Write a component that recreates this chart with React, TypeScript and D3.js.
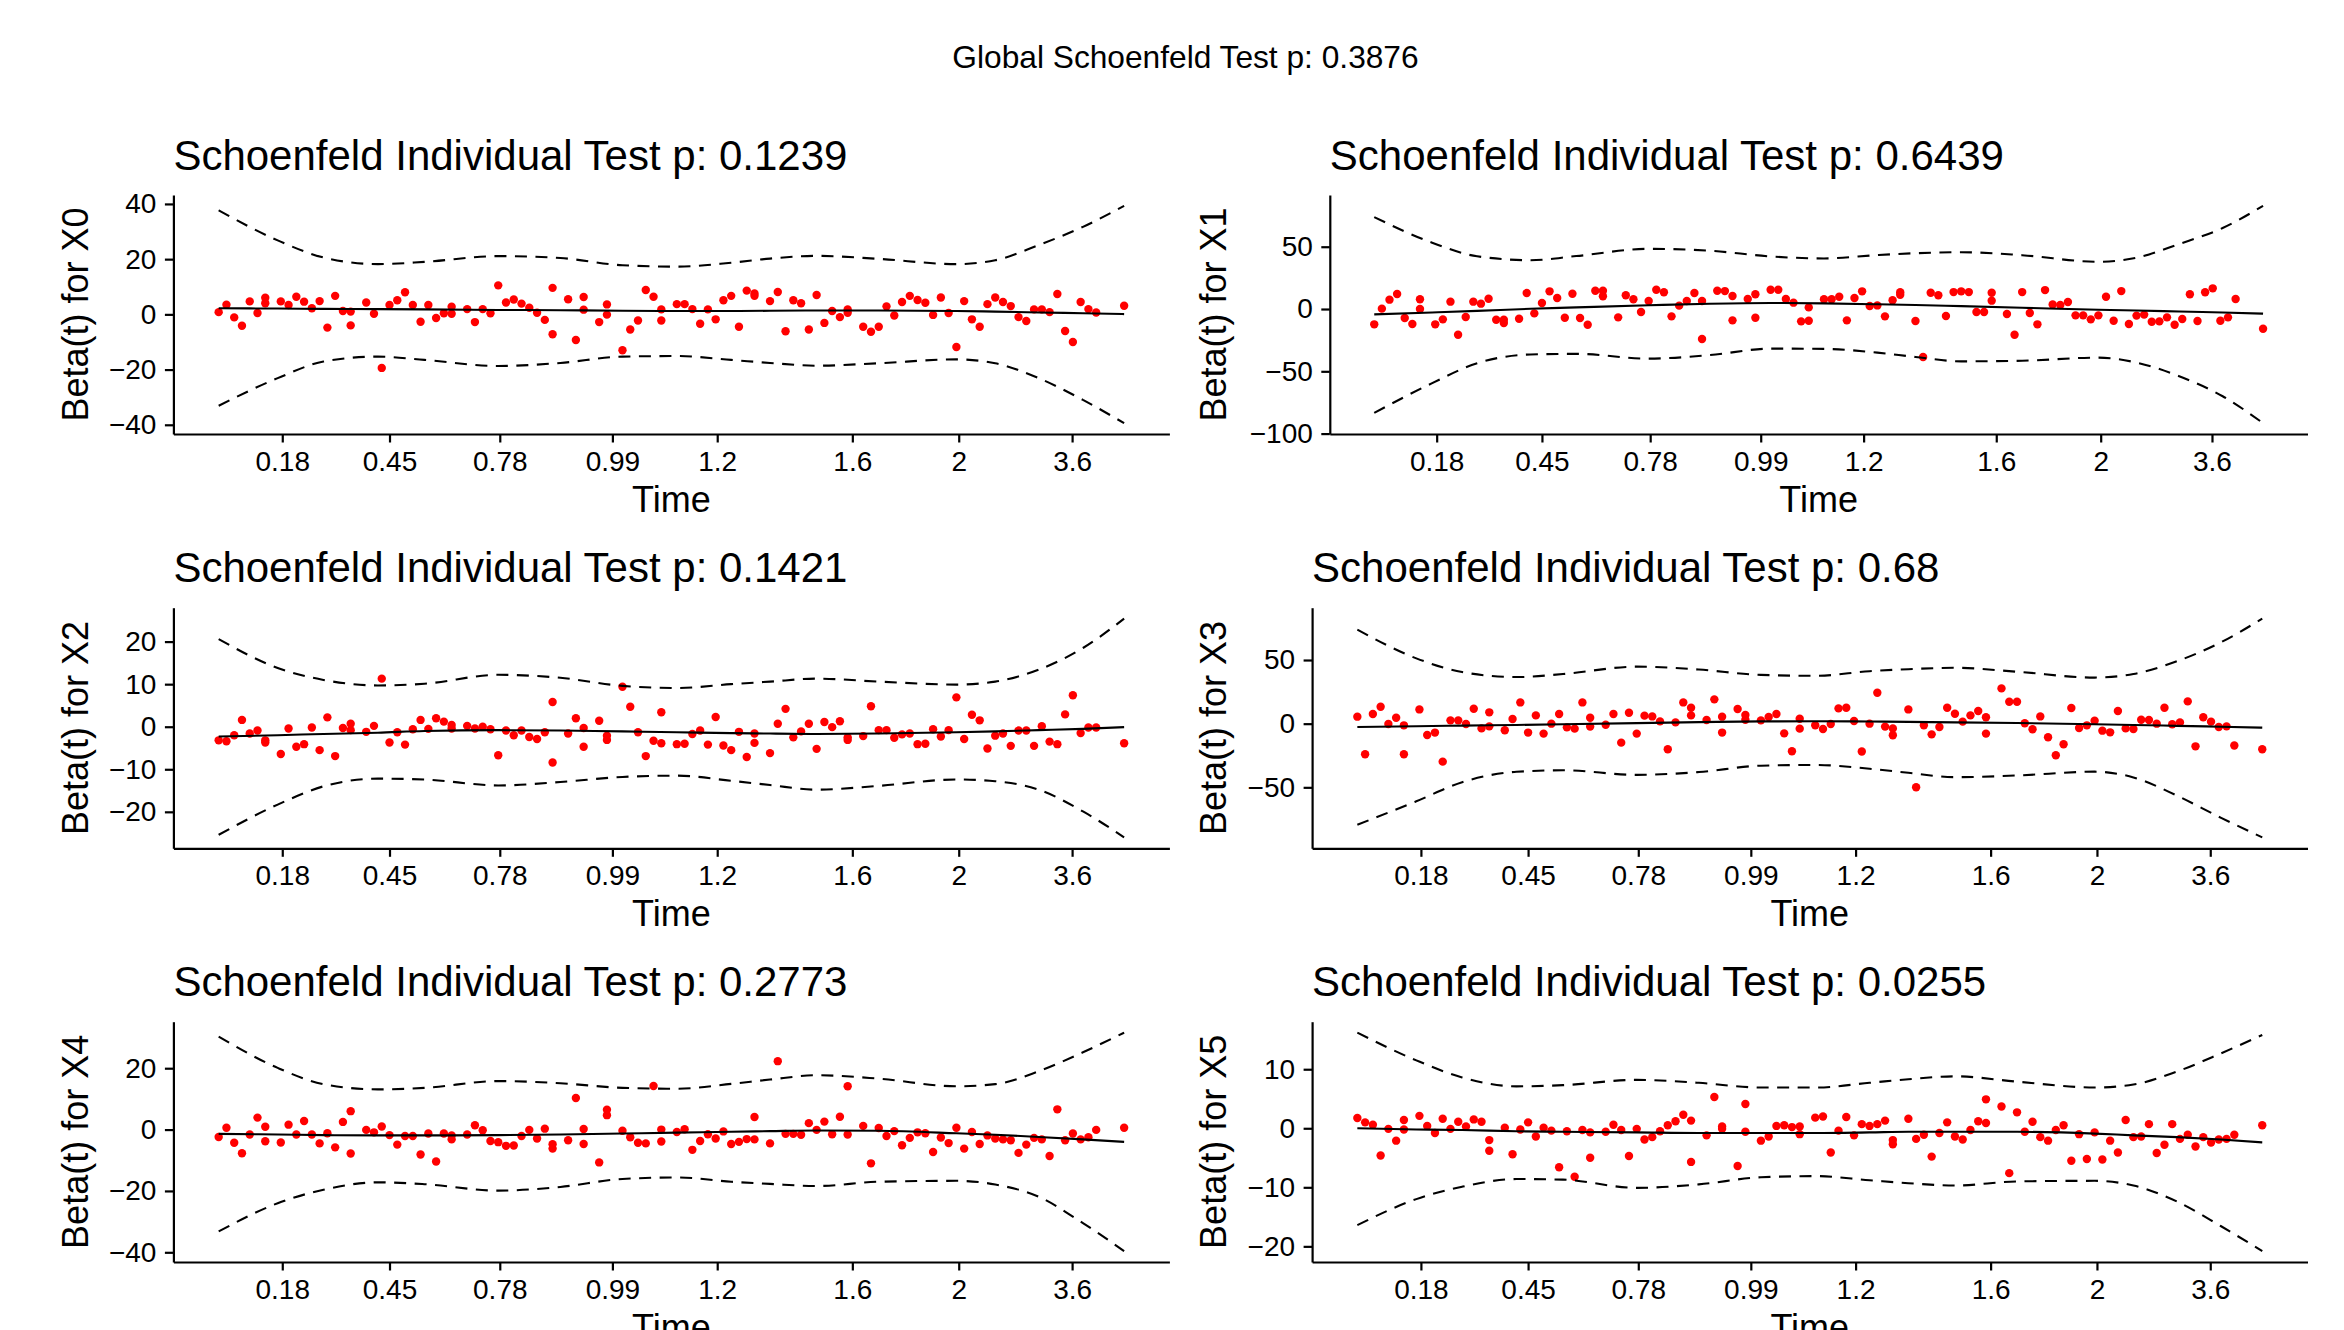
import * as d3 from "d3";
import { useEffect, useRef } from "react";

// x position of every event on the transformed time axis (tied times share a slot)
const timeSlots = [
  0, 1, 2, 3, 4, 5, 6, 6,
  8, 9, 10, 11, 12, 13, 14, 15, 16, 17, 17,
  19, 20, 21, 22, 23, 24, 25, 26, 27, 28, 29, 30, 30,
  32, 33, 34, 35, 36, 37, 38, 39, 40, 41, 42, 43, 43,
  45, 46, 47, 47,
  49, 50, 50,
  52, 53, 54, 55, 56, 57, 57,
  59, 60, 61, 62, 63, 64, 65, 66, 67, 68, 69, 69,
  71, 72, 73, 74, 75, 76, 77, 78, 79, 80, 81, 81,
  83, 84, 85, 86, 87, 88, 89, 90, 91, 92, 93, 94, 95, 96, 97, 98, 99, 100,
  101, 102, 103, 104, 105, 106, 107, 108, 109, 110, 111, 112, 113,
  116.6,
];

const timeTickSlots = [8.19, 22.0, 36.2, 50.7, 64.2, 81.6, 95.3, 109.9];
const timeTickLabels = ["0.18", "0.45", "0.78", "0.99", "1.2", "1.6", "2", "3.6"];

// scaled Schoenfeld residuals, one value per event
const betaX0 = [
  0.8, 3.5, -1.1, -4.1, 4.7, 0.5, 6.0, 4.0,
  4.7, 3.4, 6.4, 4.6, 2.2, 4.8, -4.8, 6.7, 1.2, 1.0, -4.0,
  4.3, 0.2, -19.4, 3.4, 5.1, 8.0, 3.4, -2.7, 3.4, -1.3, 0.4, 2.8, 0.2,
  1.9, -2.8, 1.9, 0.4, 10.5, 4.3, 5.4, 3.9, 2.4, 0.6, -2.0, 9.6, -7.2,
  5.5, -9.3, 6.3, 1.7,
  -2.8, 3.6, -0.1,
  -13.0, -5.5, -2.2, 8.8, 6.4, 1.8, -2.2,
  3.7, 3.7, 1.9, -3.4, 1.8, -1.8, 5.1, 6.7, -4.5, 8.6, 6.7, 7.6,
  4.8, 8.1, -6.1, 5.1, 4.0, -5.5, 7.0, -3.1, 1.2, -1.0, 1.8, 0.6,
  -4.5, -6.3, -4.5, 2.9, -0.4, 4.5, 6.7, 5.2, 4.2, -0.2, 6.1, 0.5, -11.8, 4.8, -1.8, -4.5, 3.7, 6.1,
  4.5, 3.0, -1.0, -2.4, 1.8, 1.8, 0.8, 7.4, -6.0, -10.0, 4.5, 1.9, 0.7,
  3.1,
];
const betaX1 = [
  -12.3, 0.3, 7.5, 12.0, -7.2, -12.0, 7.8, 0,
  -12.3, -8.3, 5.9, -20.6, -6.4, 5.9, 4.3, 8.3, -8.6, -8.6, -11.2,
  -7.8, 12.8, -3.5, 4.8, 14.2, 8.8, -7.0, 12.3, -7.2, -12.6, 14.7, 14.7, 10.2,
  -6.7, 11.0, 7.8, -2.4, 6.4, 15.5, 13.4, -5.9, 2.7, 6.4, 12.8, 6.4, -24.1,
  14.7, 14.4, 10.4, -9.1,
  8.0, 11.8, -7.0,
  15.5, 15.5, 8.0, 5.1, -9.9, -9.4, 1.3,
  7.8, 7.8, 9.9, -9.1, 8.8, 14.2, 2.4, 2.9, -5.9, 7.0, 13.5, 11.5,
  -9.6, -38.5, 13.1, 11.0, -5.6, 13.6, 14.2, 13.6, -2.4, -2.4, 13.1, 6.7,
  -4.0, -20.6, 13.6, -3.2, -12.3, 15.2, 3.7, 3.2, 5.6, -5.1, -5.1, -8.3, -5.1, 9.9, -9.4, 14.4, -12.0, -5.3,
  -4.5, -10.2, -9.9, -6.7, -12.6, -8.0, 11.8, -9.6, 13.4, 16.6, -9.4, -6.7, 8.0,
  -15.8,
];
const betaX2 = [
  -3.2, -3.4, -2.0, 1.6, -1.6, -0.9, -3.7, -3.2,
  -6.4, -0.4, -4.7, -4.1, -0.2, -5.5, 2.2, -6.9, -0.3, 0.7, -0.8,
  -1.2, 0.2, 11.3, -3.7, -1.3, -4.2, -0.6, 1.6, -0.5, 2.0, 1.2, 0.4, -0.4,
  0.2, -0.4, 0, -0.6, -6.7, -0.9, -2.0, -0.9, -2.4, -2.9, -1.3, 5.8, -8.4,
  -1.6, 2.0, -0.3, -4.7,
  1.4, -2.1, -3.1,
  9.4, 4.7, -1.3, -6.9, -3.3, -3.9, 3.4,
  -4.1, -4.0, -1.7, -0.9, -4.2, 2.3, -4.4, -5.5, -1.2, -7.1, -3.8, -1.6,
  -6.2, 0.7, 4.2, -2.5, -1.1, 0.7, -5.2, 1.1, -0.1, 1.3, -2.5, -3.1,
  -2.2, 4.8, -0.8, -0.8, -2.6, -1.8, -1.6, -4.1, -4.0, -0.6, -2.3, -0.8, 6.9, -2.9, 2.8, 1.5, -5.1, -2.1,
  -1.6, -4.5, -0.9, -0.9, -4.5, 0.1, -3.5, -4.1, 2.9, 7.4, -1.5, -0.2, -0.2,
  -3.9,
];
const betaX3 = [
  5.5, -24.0, 7.6, 13.3, -0.3, 4.7, -1.3, -24.0,
  11.2, -8.9, -7.0, -29.8, 2.6, 2.6, -0.3, 11.7, -3.7, -2.1, 8.9,
  -5.2, 3.7, 16.7, -7.0, 6.5, -7.8, 0, 7.6, -2.9, -3.9, 16.7, 4.7, -2.3,
  -0.8, 7.6, -14.9, 8.6, -7.8, 6.3, 5.7, 1.8, -20.1, 1.0, 16.7, 12.5, 6.5,
  2.9, 19.1, 5.5, -7.0,
  11.5, 6.8, 3.1,
  2.6, 5.3, 7.6, -7.6, -21.7, 3.9, -3.9,
  -1.3, -4.2, -0.3, 12.0, 12.5, 2.1, -21.9, 0, 24.3, -2.3, -3.7, -9.1,
  11.2, -49.9, -1.3, -8.4, -2.6, 12.5, 7.8, 1.6, 6.5, 9.9, 5.0, -7.8,
  27.7, 17.2, 17.2, 0.3, -4.4, 5.7, -10.7, -24.8, -16.2, 12.3, -3.4, -1.3, 2.3, -5.5, -6.8, 9.9, -3.7, -4.2,
  3.1, 2.9, 0, 12.5, -0.5, 1.0, 17.5, -17.8, 5.0, 1.6, -2.6, -2.1, -17.2,
  -20.1,
];
const betaX4 = [
  -2.4, 0.6, -4.3, -7.7, -1.6, 3.9, 0.9, -3.8,
  -4.2, 1.6, -1.6, 2.8, -1.6, -4.5, -1.2, -5.8, 2.5, 6.0, -7.8,
  -0.1, -0.9, 1.0, -1.8, -4.9, -2.1, -2.1, -8.1, -1.3, -10.4, -1.3, -1.9, -3.2,
  -1.6, 1.4, -0.2, -3.7, -4.1, -5.3, -5.2, -2.1, -0.1, -2.9, 0.3, -4.8, -6.2,
  -3.5, 10.3, 0.2, -4.7,
  -10.7, 6.5, 4.7,
  -0.4, -2.5, -4.3, -4.5, 14.2, 0, -3.9,
  -0.8, 0.1, -6.6, -3.7, -1.5, -2.9, -0.6, -4.7, -4.0, -3.1, 4.1, -3.2,
  -4.5, 22.3, -1.4, -1.4, -1.7, 2.1, -0.1, 2.6, -1.5, 4.2, 14.1, -1.6,
  1.2, -11.0, 0.5, -2.1, -0.5, -5.1, -2.7, -0.9, -1.2, -7.3, -2.6, -4.4, 0.6, -6.2, -0.8, -4.7, -1.9, -2.9,
  -3.2, -3.5, -7.6, -4.9, -2.7, -3.2, -8.6, 6.6, -3.5, -1.3, -3.2, -2.5, -0.1,
  0.6,
];
const betaX5 = [
  1.75, 1.0, 0.6, -4.6, -0.1, -2.1, 1.4, -0.2,
  2.1, 0.4, -0.8, 1.6, -0.1, 1.1, 0.3, 1.5, 1.1, -2.0, -3.8,
  0.1, -4.4, -0.2, 1.0, -1.4, 0.1, -0.4, -6.6, -0.5, -8.2, -0.3, -0.7, -5.0,
  -0.6, 0.6, -0.3, -4.7, -0.1, -1.9, -1.5, -0.5, 0.5, 1.2, 2.3, 1.3, -5.7,
  -1.2, 5.3, 0.3, -0.1,
  -6.4, 4.1, -0.6,
  -2.1, -1.4, 0.4, 0.5, 0.2, 0.3, -1.0,
  1.8, 2.0, -4.1, -0.4, 1.9, -1.2, 0.7, 0.4, 0.7, 1.3, -2.0, -2.7,
  1.6, -1.8, -1.1, -4.8, -0.8, 1.0, -1.4, -1.9, -0.3, 1.2, 4.9, 0.9,
  3.7, -7.6, 2.7, -0.6, 1.1, -1.5, -2.1, -0.3, 0.5, -5.5, -1.0, -5.2, -0.7, -5.3, -2.1, -4.1, 1.4, -1.5,
  -1.4, 0.7, -4.2, -2.8, 0.7, -1.8, -1.1, -3.1, -1.5, -2.4, -1.9, -1.8, -1.1,
  0.5,
];

// spline fit and +/- 2 se band, read at these slots
const knotSlots = [0, 7.6, 13.5, 20.5, 26.5, 36, 44, 52, 59, 66, 71, 77, 85, 95, 100, 105.6, 111.3, 116.6];

const fitX0 = [2.2, 2.1, 2.0, 1.9, 1.8, 1.6, 1.5, 1.3, 1.2, 1.2, 1.3, 1.4, 1.4, 1.2, 1.0, 0.7, 0.4, 0.1];
const upperX0 = [37.7, 26.8, 20.6, 18.2, 19.0, 21.1, 20.4, 17.8, 17.3, 18.7, 20.2, 21.2, 20.1, 18.2, 19.6, 25.1, 31.7, 39.3];
const lowerX0 = [-33.1, -23.1, -17.1, -15.3, -16.5, -18.7, -17.6, -15.3, -15.1, -16.5, -17.6, -18.6, -17.7, -16.3, -17.7, -23.1, -31.0, -39.4];

const fitX1 = [-4.3, -2.8, -1.5, 0.2, 1.3, 3.0, 4.2, 4.8, 4.5, 3.8, 3.2, 2.3, 1.0, -0.6, -1.2, -2.0, -2.8, -3.7];
const upperX1 = [73.8, 53.2, 42.3, 39.2, 42.5, 48.3, 46.8, 42.2, 40.6, 43.3, 44.8, 45.6, 43.2, 37.9, 41.2, 52.2, 65.0, 82.8];
const lowerX1 = [-83.4, -59.5, -43.5, -36.5, -36.0, -39.8, -37.0, -31.8, -32.0, -35.0, -38.5, -42.0, -41.5, -39.0, -43.0, -54.0, -70.0, -91.6];

const fitX2 = [-2.3, -2.0, -1.7, -1.4, -1.0, -0.8, -0.9, -1.1, -1.3, -1.5, -1.6, -1.7, -1.6, -1.3, -1.1, -0.8, -0.5, -0.1];
const upperX2 = [20.6, 13.8, 11.0, 9.7, 10.1, 12.2, 11.5, 9.6, 9.1, 10.0, 10.6, 11.3, 10.6, 9.9, 10.6, 13.4, 18.5, 25.4];
const lowerX2 = [-25.4, -18.3, -14.0, -12.2, -12.4, -13.8, -13.0, -11.8, -11.5, -12.7, -13.7, -14.8, -13.9, -12.4, -12.8, -14.8, -19.9, -26.0];

const fitX3 = [-2.6, -2.0, -1.5, -1.0, -0.5, 0.4, 1.2, 1.8, 1.9, 1.7, 1.4, 1.0, 0.5, -0.5, -1.0, -1.7, -2.4, -3.1];
const upperX3 = [73.9, 51.3, 40.6, 36.6, 39.0, 44.8, 42.5, 38.3, 37.6, 41.2, 42.8, 43.9, 40.8, 36.2, 39.0, 49.0, 64.0, 82.5];
const lowerX3 = [-79.4, -61.0, -46.0, -37.8, -36.6, -40.2, -38.0, -33.0, -32.4, -35.4, -38.6, -42.0, -40.7, -37.7, -42.2, -56.5, -74.0, -89.3];

const fitX4 = [-1.4, -1.6, -1.8, -1.9, -1.9, -1.8, -1.6, -1.3, -1.0, -0.7, -0.5, -0.3, -0.4, -1.2, -1.7, -2.4, -3.2, -4.0];
const upperX4 = [30.3, 20.1, 14.8, 13.1, 13.6, 15.8, 15.1, 13.6, 13.3, 14.9, 16.3, 17.7, 16.6, 14.1, 14.8, 19.0, 25.2, 31.6];
const lowerX4 = [-33.2, -24.0, -19.6, -17.2, -17.8, -19.9, -18.7, -16.1, -15.6, -17.0, -17.7, -18.4, -17.0, -16.7, -17.9, -21.9, -30.5, -39.6];

const fitX5 = [0, -0.2, -0.3, -0.5, -0.6, -0.7, -0.8, -0.8, -0.8, -0.7, -0.6, -0.6, -0.6, -0.9, -1.2, -1.5, -1.9, -2.4];
const upperX5 = [16.2, 11.5, 8.6, 7.1, 7.3, 8.2, 7.7, 6.9, 6.9, 7.7, 8.3, 8.8, 7.9, 6.9, 7.4, 9.6, 12.7, 15.8];
const lowerX5 = [-16.4, -12.0, -9.9, -8.6, -8.7, -10.1, -9.5, -8.3, -8.1, -8.8, -9.3, -9.7, -9.0, -8.9, -9.7, -12.4, -16.6, -20.8];

const covariates = ["X0", "X1", "X2", "X3", "X4", "X5"];
const pValues = ["0.1239", "0.6439", "0.1421", "0.68", "0.2773", "0.0255"];
const yTickSets = [
  [-40, -20, 0, 20, 40],
  [-100, -50, 0, 50],
  [-20, -10, 0, 10, 20],
  [-50, 0, 50],
  [-40, -20, 0, 20],
  [-20, -10, 0, 10],
];
const globalP = "0.3876";

const series = [
  { beta: betaX0, fit: fitX0, upper: upperX0, lower: lowerX0 },
  { beta: betaX1, fit: fitX1, upper: upperX1, lower: lowerX1 },
  { beta: betaX2, fit: fitX2, upper: upperX2, lower: lowerX2 },
  { beta: betaX3, fit: fitX3, upper: upperX3, lower: lowerX3 },
  { beta: betaX4, fit: fitX4, upper: upperX4, lower: lowerX4 },
  { beta: betaX5, fit: fitX5, upper: upperX5, lower: lowerX5 },
];

// panel boxes in page pixels (left edge follows the width of the y tick labels)
const boxes = [
  { left: 173.4, right: 1169.4, top: 195, bottom: 434, yTitleX: 87.5 },
  { left: 1329.8, right: 2307.5, top: 195, bottom: 434, yTitleX: 1226 },
  { left: 173.4, right: 1169.4, top: 607.7, bottom: 848.3, yTitleX: 87.5 },
  { left: 1312.1, right: 2307.5, top: 607.7, bottom: 848.3, yTitleX: 1226 },
  { left: 173.4, right: 1169.4, top: 1021.7, bottom: 1262, yTitleX: 87.5 },
  { left: 1312.1, right: 2307.5, top: 1021.7, bottom: 1262, yTitleX: 1226 },
];

const FONT = "'Liberation Sans', Arial, Helvetica, sans-serif";

function ZphPanel({ box, name, p, beta, fit, upper, lower, yTicks }) {
  const gRef = useRef(null);

  useEffect(() => {
    const g = d3.select(gRef.current);

    const [t0, t1] = d3.extent(timeSlots);
    const tPad = (t1 - t0) * 0.05;
    const xScale = d3
      .scaleLinear()
      .domain([t0 - tPad, t1 + tPad])
      .range([box.left, box.right]);

    const [b0, b1] = d3.extent([...beta, ...upper, ...lower]);
    const bPad = (b1 - b0) * 0.05;
    const yScale = d3
      .scaleLinear()
      .domain([b0 - bPad, b1 + bPad])
      .range([box.bottom, box.top]);

    const content = g.select(".content");

    content
      .selectAll(".dot")
      .data(beta)
      .join("circle")
      .attr("class", "dot")
      .attr("cx", (_, i) => xScale(timeSlots[i]))
      .attr("cy", (d) => yScale(d))
      .attr("r", 4.2)
      .attr("fill", "#ff0000");

    const lineGenerator = d3
      .line()
      .x((d) => xScale(d[0]))
      .y((d) => yScale(d[1]))
      .curve(d3.curveMonotoneX);

    const curves = [
      { values: fit, dash: null },
      { values: upper, dash: "12 8.5" },
      { values: lower, dash: "12 8.5" },
    ];

    content
      .selectAll(".curve")
      .data(curves)
      .join("path")
      .attr("class", "curve")
      .attr("fill", "none")
      .attr("stroke", "black")
      .attr("stroke-width", 2.1)
      .attr("stroke-dasharray", (d) => d.dash)
      .attr("d", (d) => lineGenerator(knotSlots.map((k, i) => [k, d.values[i]])));

    const xAxis = d3
      .axisBottom(xScale)
      .tickValues(timeTickSlots)
      .tickFormat((d) => timeTickLabels[timeTickSlots.indexOf(d)])
      .tickSize(8.5)
      .tickSizeOuter(0)
      .tickPadding(8.5);
    g.select(".x-axis").attr("transform", `translate(0,${box.bottom})`).call(xAxis);

    const yAxis = d3
      .axisLeft(yScale)
      .tickValues(yTicks)
      .tickFormat(d3.format("d"))
      .tickSize(8.5)
      .tickSizeOuter(0)
      .tickPadding(8.5);
    g.select(".y-axis").attr("transform", `translate(${box.left},0)`).call(yAxis);

    g.selectAll(".x-axis, .y-axis").attr("font-size", 28).attr("font-family", FONT);
    g.selectAll(".domain, .tick line").attr("stroke", "black").attr("stroke-width", 2.2);
    g.selectAll(".tick text").attr("fill", "black");
  }, [box, beta, fit, upper, lower, yTicks]);

  return (
    <g ref={gRef}>
      <text x={box.left} y={box.top - 25.3} fontSize={42} fontFamily={FONT} fill="black">
        {`Schoenfeld Individual Test p: ${p}`}
      </text>
      <text
        transform={`translate(${box.yTitleX},${(box.top + box.bottom) / 2}) rotate(-90)`}
        textAnchor="middle"
        fontSize={36}
        fontFamily={FONT}
        fill="black"
      >
        {`Beta(t) for ${name}`}
      </text>
      <text
        x={(box.left + box.right) / 2}
        y={box.bottom + 77.7}
        textAnchor="middle"
        fontSize={36}
        fontFamily={FONT}
        fill="black"
      >
        Time
      </text>
      <g className="content" />
      <g className="x-axis" />
      <g className="y-axis" />
    </g>
  );
}

export default function App() {
  return (
    <svg
      width={2344}
      height={1330}
      style={{ position: "absolute", left: 0, top: 0, display: "block", background: "white" }}
    >
      <text x={1185.5} y={68} textAnchor="middle" fontSize={31.7} fontFamily={FONT} fill="black">
        {`Global Schoenfeld Test p: ${globalP}`}
      </text>
      {series.map((s, i) => (
        <ZphPanel
          key={covariates[i]}
          box={boxes[i]}
          name={covariates[i]}
          p={pValues[i]}
          beta={s.beta}
          fit={s.fit}
          upper={s.upper}
          lower={s.lower}
          yTicks={yTickSets[i]}
        />
      ))}
    </svg>
  );
}
